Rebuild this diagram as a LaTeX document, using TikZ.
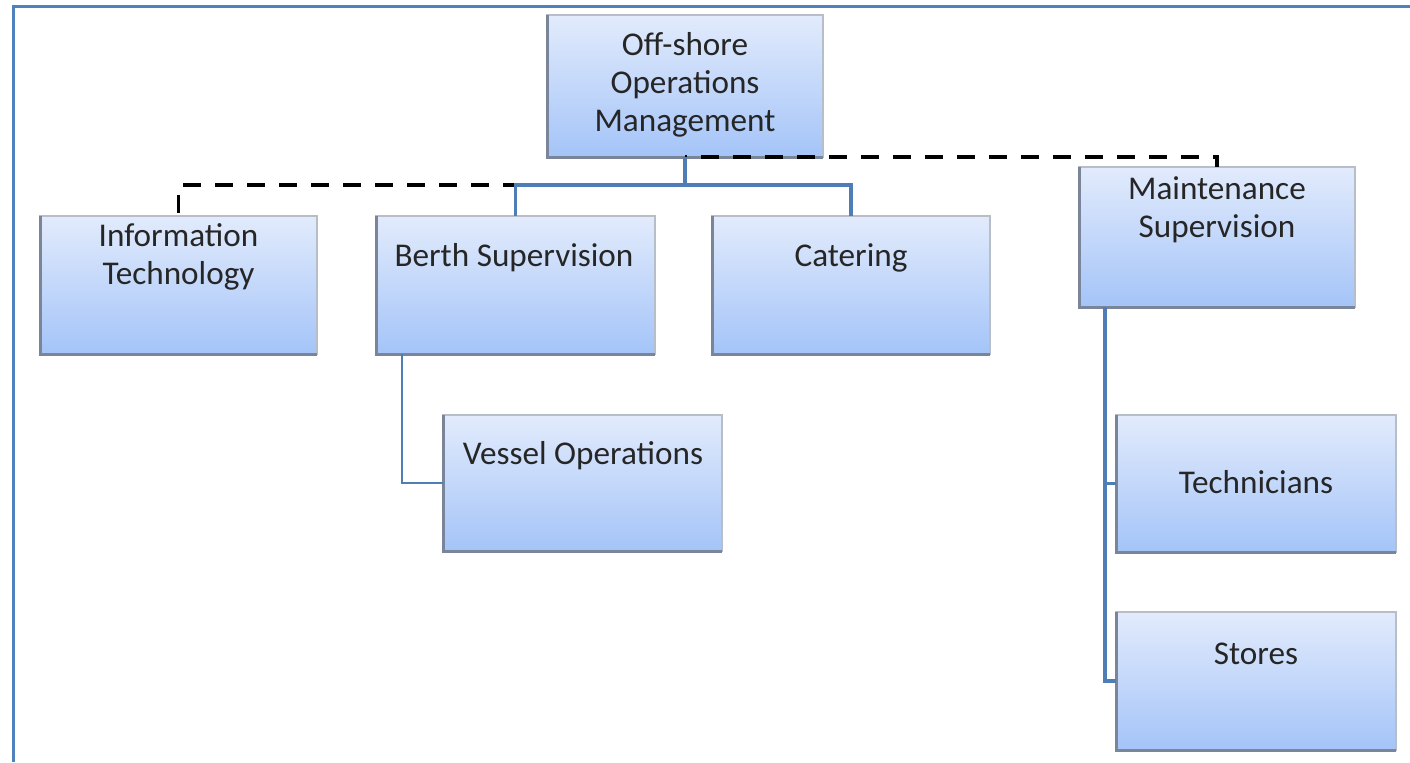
\documentclass[tikz,border=0pt]{standalone}
\usepackage{fontspec}
\setmainfont{Carlito}
\definecolor{frameblue}{RGB}{79,129,189}
\definecolor{linkblue}{RGB}{79,125,181}
\definecolor{boxtop}{RGB}{226,235,252}
\definecolor{boxbot}{RGB}{164,196,248}
\definecolor{boxedge}{RGB}{184,190,200}
\definecolor{boxshade}{RGB}{122,133,153}
\begin{document}
\begin{tikzpicture}[x=0.5pt,y=-0.5pt,
  box/.style={draw=boxedge, line width=1pt, top color=boxtop, bottom color=boxbot,
    inner sep=0pt, outer sep=0pt},
  shadeedge/.style={draw=boxshade, line width=1.5pt},
  lbl/.style={font=\fontsize{16.6}{19}\selectfont, align=center, inner sep=0pt, text=black!85},
  tree/.style={draw=linkblue, line width=1.6pt},
  thinlink/.style={draw=linkblue, line width=1.1pt},
  dashlink/.style={draw=black, line width=1.8pt, dash pattern=on 9pt off 7pt}
]
\useasboundingbox (0,0) rectangle (1410,762);
\draw[frameblue, line width=1.5pt] (13,762) -- (13,6) -- (1410,6);

% boxes
\node[box, minimum width=138pt, minimum height=71pt] (off) at (685,86) {};
\node[box, minimum width=138.5pt, minimum height=69pt] (it) at (178.5,285) {};
\node[box, minimum width=139.5pt, minimum height=69pt] (berth) at (515.5,285) {};
\node[box, minimum width=139pt, minimum height=69pt] (cat) at (851,285) {};
\node[box, minimum width=138pt, minimum height=70pt] (maint) at (1217,237) {};
\node[box, minimum width=139.5pt, minimum height=68pt] (vessel) at (582.5,483) {};
\node[box, minimum width=140pt, minimum height=68.5pt] (tech) at (1256,483.5) {};
\node[box, minimum width=140pt, minimum height=69pt] (stores) at (1256,681) {};

\foreach \n in {off,it,berth,cat,maint,vessel,tech,stores}{
  \draw[shadeedge] (\n.north west) -- (\n.south west) -- (\n.south east);
}

% labels
\node[lbl] (offT) at (685,85) {Off-shore\\Operations\\Management};
\node[lbl] (itT) at (178.5,257) {Information\\Technology};
\node[lbl] (berthT) at (514,258) {Berth Supervision};
\node[lbl] (catT) at (851,258) {Catering};
\node[lbl] (maintT) at (1217,210) {Maintenance\\Supervision};
\node[lbl] (vesselT) at (583,456) {Vessel Operations};
\node[lbl] (techT) at (1256,482) {Technicians};
\node[lbl] (storesT) at (1256,654) {Stores};

% elbow coordinates
\coordinate (busL) at (515.5,185);
\coordinate (busR) at (851,185);
\coordinate (busM) at (685,185);
\coordinate (bv) at (402,354);
\coordinate (mt) at (1105,307);
\coordinate (mtech) at (1105,483.5);

% dashed links
\draw[dashlink] (off.south) -- (busM) -| (it.north);
\draw[dashlink, dash phase=8pt] (off.south) -| (maint.north);

% solid tree
\draw[tree] (off.south) -- (busM);
\draw[tree] (berth.north) -- (busL) -- (busR) -- (cat.north);
\draw[thinlink] (bv) |- (vessel.west);
\draw[tree] (mt) |- (stores.west);
\draw[tree] (mtech) -- (tech.west);
\end{tikzpicture}
\end{document}
